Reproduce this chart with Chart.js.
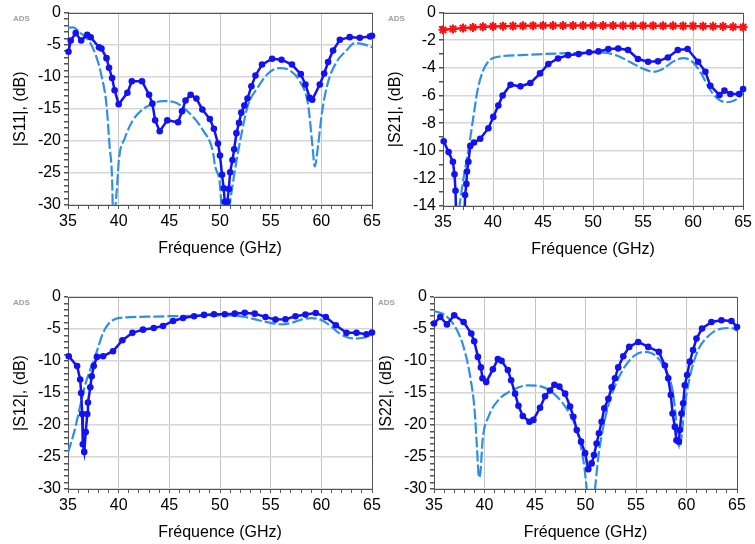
<!DOCTYPE html>
<html>
<head>
<meta charset="utf-8">
<script src="https://cdn.jsdelivr.net/npm/chart.js@4.4.1/dist/chart.umd.min.js"></script>
<style>
body { margin: 0; background: #fff; }
#page { position: relative; width: 755px; height: 544px; overflow: hidden; background: #fff; }
canvas { position: absolute; }
.ads { position: absolute; font: bold 8px "Liberation Sans", Arial, sans-serif; color: #a0a0a0; line-height: 10px; }
</style>
</head>
<body>
<div id="page">
  <canvas id="s11" width="390" height="272" style="left:0;top:0;width:390px;height:272px"></canvas>
  <canvas id="s21" width="380" height="272" style="left:375px;top:0;width:380px;height:272px"></canvas>
  <canvas id="s12" width="390" height="264" style="left:0;top:280px;width:390px;height:264px"></canvas>
  <canvas id="s22" width="389" height="264" style="left:366px;top:280px;width:389px;height:264px"></canvas>
  <div class="ads" style="left:13px;top:14px">ADS</div>
  <div class="ads" style="left:388px;top:14px">ADS</div>
  <div class="ads" style="left:13px;top:298px">ADS</div>
  <div class="ads" style="left:378px;top:298px">ADS</div>
</div>
<script>
const FONT = '"Liberation Sans", Arial, Helvetica, sans-serif';
const MEAS = '#1212f2';
const SIM = '#2f8fe6';
const RED = '#ff1010';

// |S11| mesure
const s11MeasFreq = [35.05, 35.27, 35.76, 36.3, 36.9, 37.24, 38.06, 38.3, 38.8, 39.05, 39.35, 39.6, 40.0, 40.86, 41.3, 42.3, 43.0, 43.33, 43.6, 44.05, 44.8, 45.86, 46.25, 46.6, 47.1, 47.67, 48.26, 49.0, 49.4, 49.8, 50.0, 50.2, 50.37, 50.47, 50.73, 50.87, 51.0, 51.23, 51.4, 51.62, 51.88, 52.1, 52.4, 52.71, 53.1, 53.5, 54.15, 55.14, 56.07, 57.1, 57.97, 58.43, 58.86, 59.1, 59.85, 60.28, 60.67, 61.16, 61.83, 62.8, 63.8, 64.8, 65.0];
const s11Meas = [-6.1, -4.35, -3.2, -4.35, -3.45, -3.85, -5.4, -5.6, -7.1, -8.6, -10.2, -12.1, -14.3, -12.5, -10.7, -10.7, -12.8, -14.2, -16.8, -18.5, -16.8, -17.1, -15.4, -13.7, -12.8, -13.4, -15.1, -16.6, -18.1, -20.4, -22.3, -25.3, -27.4, -29.5, -29.5, -27.5, -24.9, -23.0, -21.3, -18.8, -17.2, -15.6, -14.5, -13.4, -11.5, -9.8, -8.1, -7.2, -7.35, -8.1, -9.6, -11.2, -13.3, -13.6, -11.2, -9.5, -7.7, -5.9, -4.24, -3.83, -3.93, -3.73, -3.6];
// |S11| simulation
const s11SimFreq = [35.0, 35.5, 36.15, 37.14, 37.8, 38.3, 38.8, 39.1, 39.35, 39.47, 39.8, 40.04, 40.6, 41.4, 42.74, 44.4, 45.37, 47.0, 48.3, 49.3, 49.5, 50.0, 50.14, 50.55, 50.96, 51.3, 51.62, 52.1, 52.77, 53.76, 54.74, 55.9, 56.88, 57.87, 58.7, 59.12, 59.35, 59.68, 60.07, 60.67, 61.5, 62.48, 63.3, 64.3, 65.0];
const s11Sim = [-2.35, -2.3, -3.1, -4.6, -6.9, -9.8, -14.4, -20.7, -25.8, -33, -27.9, -22.7, -19.6, -16.8, -14.7, -13.8, -13.9, -15.7, -18.3, -21.7, -23.8, -26.9, -30, -36, -30, -26.3, -23.2, -19.1, -14.4, -11.6, -9.5, -8.65, -9.0, -10.7, -14.4, -20.7, -24.0, -20.7, -15.5, -10.8, -7.7, -5.9, -4.75, -5.0, -5.4];

// |S21| mesure
const s21MeasFreq = [35.07, 35.56, 35.99, 36.15, 36.25, 36.5, 36.85, 37.21, 37.34, 37.4, 37.54, 37.73, 38.1, 38.72, 39.54, 40.03, 40.53, 40.96, 41.75, 42.74, 43.73, 44.7, 45.53, 46.5, 47.5, 48.56, 49.6, 50.54, 51.53, 52.51, 53.5, 54.49, 55.5, 56.49, 57.48, 58.47, 59.45, 60.5, 61.23, 61.72, 62.64, 63.13, 63.73, 64.6, 65.0];
const s21Meas = [-9.31, -10.1, -10.8, -11.7, -12.9, -20, -22, -13.2, -12.4, -11.5, -10.8, -9.65, -9.4, -9.13, -8.37, -7.55, -6.73, -6.0, -5.22, -5.34, -5.1, -4.4, -3.72, -3.32, -3.08, -3.0, -2.87, -2.81, -2.64, -2.6, -2.71, -3.36, -3.56, -3.53, -3.25, -2.71, -2.64, -3.56, -4.28, -5.29, -5.96, -5.65, -5.89, -5.89, -5.53];
// |S21| = |S12| simulation
const transSimFreq = [35.0, 35.66, 36.15, 36.65, 37.14, 37.57, 38.06, 38.46, 38.95, 39.6, 40.77, 42.74, 45.0, 48.0, 50.8, 52.44, 53.75, 55.07, 56.06, 57.05, 58.04, 59.03, 60.0, 60.83, 61.65, 62.48, 63.3, 64.12, 64.78, 65.0];
const transSim = [-24.3, -20.8, -17.4, -14.0, -11.6, -9.8, -7.45, -5.6, -4.3, -3.48, -3.17, -3.08, -3.0, -2.93, -2.88, -3.12, -3.6, -4.08, -4.28, -4.04, -3.53, -3.29, -3.6, -4.44, -5.53, -6.25, -6.49, -6.37, -6.0, -5.8];
// courbe rouge (S21)
const s21RefFreq = [35, 36, 37, 38, 39, 40, 41, 42, 43, 44, 45, 46, 47, 48, 49, 50, 51, 52, 53, 54, 55, 56, 57, 58, 59, 60, 61, 62, 63, 64, 65];
const s21Ref = [-1.25, -1.18, -1.12, -1.07, -1.03, -1.0, -0.98, -0.97, -0.96, -0.95, -0.94, -0.94, -0.94, -0.94, -0.94, -0.94, -0.94, -0.94, -0.95, -0.95, -0.95, -0.95, -0.96, -0.96, -0.97, -0.97, -0.98, -0.99, -1.0, -1.03, -1.06];

// |S12| mesure
const s12MeasFreq = [35.07, 35.9, 36.2, 36.3, 36.4, 36.46, 36.6, 36.75, 36.9, 36.97, 37.2, 37.34, 37.54, 37.86, 38.46, 39.44, 40.37, 41.36, 42.4, 43.46, 44.38, 45.37, 46.35, 47.44, 48.43, 49.41, 50.47, 51.46, 52.44, 53.43, 54.49, 55.47, 56.46, 57.45, 58.43, 59.45, 60.44, 61.43, 62.48, 63.47, 64.46, 65.0];
const s12Meas = [-9.25, -10.8, -12.9, -15.0, -18.3, -23.0, -24.2, -21.1, -18.3, -16.5, -14.1, -12.4, -10.8, -9.36, -9.25, -8.47, -6.75, -5.6, -5.1, -4.84, -4.52, -3.74, -3.28, -3.0, -2.8, -2.7, -2.7, -2.6, -2.45, -2.6, -3.12, -3.53, -3.48, -3.0, -2.75, -2.49, -3.12, -4.42, -5.6, -5.6, -5.82, -5.55];

// |S22| mesure
const s22MeasFreq = [35.0, 35.62, 36.28, 37.0, 37.93, 38.69, 38.98, 39.35, 39.64, 39.8, 40.17, 40.83, 41.32, 41.69, 42.31, 42.64, 43.03, 43.36, 43.79, 44.45, 44.84, 45.5, 46.0, 46.49, 46.92, 47.41, 47.98, 48.47, 48.8, 49.13, 49.56, 49.96, 50.28, 50.61, 50.84, 51.1, 51.33, 51.6, 51.86, 52.26, 52.59, 52.92, 53.24, 53.74, 54.33, 55.22, 56.21, 57.27, 57.86, 58.19, 58.45, 58.62, 58.85, 59.01, 59.24, 59.34, 59.5, 59.67, 59.83, 60.06, 60.33, 60.65, 60.99, 61.54, 62.47, 63.46, 64.45, 65.0];
const s22Meas = [-4.15, -3.12, -4.28, -2.86, -3.9, -5.71, -6.91, -9.36, -11.0, -12.7, -13.3, -11.3, -9.7, -9.98, -11.4, -13.0, -15.1, -17.0, -18.6, -19.5, -19.2, -17.3, -15.5, -14.6, -13.7, -14.0, -15.1, -17.1, -18.7, -20.8, -22.6, -24.4, -26.9, -26.0, -24.7, -22.9, -21.3, -19.5, -17.4, -15.9, -14.1, -12.7, -11.0, -9.25, -7.8, -7.02, -7.8, -8.58, -10.7, -12.7, -15.3, -18.2, -20.3, -22.4, -22.6, -20.8, -18.2, -16.6, -13.8, -12.2, -10.1, -8.3, -6.5, -4.93, -3.9, -3.64, -3.74, -4.68];
// |S22| simulation
const s22SimFreq = [35.0, 36.12, 37.1, 37.93, 38.59, 39.02, 39.25, 39.45, 39.62, 39.81, 40.4, 41.38, 42.7, 44.35, 45.67, 46.99, 48.3, 49.29, 49.88, 50.12, 50.5, 50.94, 51.27, 51.76, 52.42, 53.58, 54.9, 55.88, 56.87, 57.86, 58.68, 59.01, 59.3, 59.5, 59.77, 60.33, 61.15, 62.14, 63.46, 64.45, 65.0];
const s22Sim = [-2.18, -2.86, -4.68, -7.8, -12.5, -17.7, -23.4, -28.2, -27.0, -22.4, -18.7, -16.1, -14.6, -13.8, -14.0, -15.3, -17.9, -21.6, -26.5, -30, -36, -30, -25.0, -20.3, -16.1, -11.7, -9.1, -8.58, -9.1, -11.2, -15.1, -19.8, -23.6, -22.0, -17.7, -12.5, -8.3, -6.13, -4.93, -4.84, -5.3];

function pts(xs, ys) {
  return xs.map((x, i) => ({ x: x, y: ys[i] }));
}

function measured(xs, ys) {
  return {
    data: pts(xs, ys), borderColor: MEAS, backgroundColor: MEAS,
    borderWidth: 2.5, pointRadius: 3.3, pointBorderWidth: 0, tension: 0,
    clip: { left: 6, right: 6, top: 6, bottom: 0 }
  };
}

function simulated(xs, ys) {
  return {
    data: pts(xs, ys), borderColor: SIM, borderWidth: 2.2, borderDash: [11, 3],
    pointRadius: 0, cubicInterpolationMode: 'monotone',
    clip: { left: 0, right: 0, top: 4, bottom: 0 }
  };
}

// cadre gris autour de la zone de tracé
const framePlugin = {
  id: 'frame',
  beforeDatasetsDraw(chart) {
    const { ctx, chartArea: a } = chart;
    ctx.save();
    ctx.strokeStyle = '#555';
    ctx.lineWidth = 1;
    ctx.strokeRect(Math.round(a.left) + 0.5, Math.round(a.top) + 0.5, Math.round(a.width), Math.round(a.height));
    ctx.restore();
  }
};

function makeChart(id, cfg) {
  return new Chart(document.getElementById(id), {
    type: 'line',
    data: { datasets: cfg.datasets },
    options: {
      responsive: false,
      animation: false,
      devicePixelRatio: 1,
      layout: { padding: cfg.padding },
      plugins: { legend: { display: false }, tooltip: { enabled: false } },
      scales: {
        x: {
          type: 'linear', min: 35, max: 65,
          afterFit: s => { s.height = 55; },
          ticks: {
            stepSize: 1, autoSkip: false, maxRotation: 0, color: '#000', padding: 3,
            font: { family: FONT, size: 16 },
            callback: v => (Math.round(v) % 5 === 0 ? String(v) : '')
          },
          grid: {
            color: c => (c.tick && Math.round(c.tick.value) % 5 === 0 ? '#c4c4c4' : 'rgba(0,0,0,0)'),
            tickColor: '#555', tickLength: 4, lineWidth: 1
          },
          border: { color: '#555', width: 1 },
          title: {
            display: true, text: 'Fréquence (GHz)', color: '#000',
            font: { family: FONT, size: 16 }, padding: { top: 0, bottom: 2 }
          }
        },
        y: {
          min: cfg.yMin, max: 0,
          afterFit: s => { s.width = 68; },
          ticks: {
            stepSize: 1, autoSkip: false, color: '#000', padding: 3,
            font: { family: FONT, size: 16 },
            callback: v => (Math.round(v) % cfg.yMajor === 0 ? String(v) : '')
          },
          grid: {
            color: c => (c.tick && Math.round(c.tick.value) % cfg.yMajor === 0 ? '#d6d6d6' : 'rgba(0,0,0,0)'),
            tickColor: '#555', tickLength: 4, lineWidth: 1.5
          },
          border: { color: '#555', width: 1 },
          title: {
            display: true, text: cfg.yTitle, color: '#000',
            font: { family: FONT, size: 16 }, padding: { top: 11, bottom: 0 }
          }
        }
      }
    },
    plugins: [framePlugin]
  });
}

makeChart('s11', {
  yTitle: '|S11|, (dB)', yMin: -30, yMajor: 5,
  padding: { left: 0, top: 12, right: 18, bottom: 12 },
  datasets: [measured(s11MeasFreq, s11Meas), simulated(s11SimFreq, s11Sim)]
});

makeChart('s21', {
  yTitle: '|S21|, (dB)', yMin: -14, yMajor: 2,
  padding: { left: 0, top: 12, right: 8, bottom: 11 },
  datasets: [
    {
      data: pts(s21RefFreq, s21Ref), borderColor: RED, backgroundColor: RED,
      borderWidth: 2.5, pointStyle: 'star', pointRadius: 4.5, pointBorderWidth: 2, tension: 0,
      clip: { left: 6, right: 6, top: 6, bottom: 0 }
    },
    measured(s21MeasFreq, s21Meas),
    simulated(transSimFreq, transSim)
  ]
});

makeChart('s12', {
  yTitle: '|S12|, (dB)', yMin: -30, yMajor: 5,
  padding: { left: 0, top: 17, right: 18, bottom: 0 },
  datasets: [measured(s12MeasFreq, s12Meas), simulated(transSimFreq, transSim)]
});

makeChart('s22', {
  yTitle: '|S22|, (dB)', yMin: -30, yMajor: 5,
  padding: { left: 0, top: 17, right: 18, bottom: 0 },
  datasets: [measured(s22MeasFreq, s22Meas), simulated(s22SimFreq, s22Sim)]
});
</script>
</body>
</html>
